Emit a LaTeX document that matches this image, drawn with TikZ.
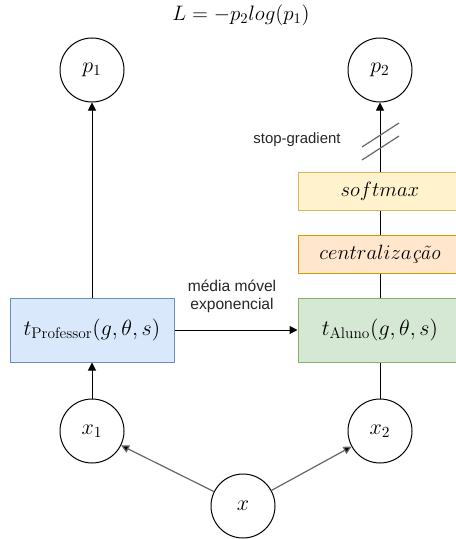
\RequirePackage{fix-cm}
\documentclass[tikz,border=0pt]{standalone}
\usepackage{fontspec}
\newfontfamily\sansf{Liberation Sans}
\usetikzlibrary{arrows.meta}
\definecolor{blueF}{HTML}{DAE8FC}
\definecolor{blueD}{HTML}{6C8EBF}
\definecolor{greenF}{HTML}{D5E8D4}
\definecolor{greenD}{HTML}{82B366}
\definecolor{yelF}{HTML}{FFF2CC}
\definecolor{yelD}{HTML}{D6B656}
\definecolor{orF}{HTML}{FFE6CC}
\definecolor{orD}{HTML}{D79B00}
\tikzset{
  circ/.style={draw, circle, minimum size=48pt, inner sep=0pt, line width=0.75pt, font=\fontsize{16.5}{19}\selectfont},
  bigbox/.style={draw, rectangle, minimum width=123pt, minimum height=48pt, inner sep=0pt, line width=0.75pt, font=\fontsize{16.5}{19}\selectfont},
  smallbox/.style={draw, rectangle, minimum width=123pt, minimum height=28pt, inner sep=0pt, line width=0.75pt, font=\fontsize{15.5}{18}\selectfont},
  conn/.style={line width=0.75pt},
  arr/.style={line width=0.75pt, -{Triangle[length=6pt,width=6pt]}},
  garr/.style={line width=0.9pt, draw=black!60, -{Triangle[length=6pt,width=6pt,fill=black]}},
  lbl/.style={font=\sansf\fontsize{11.2}{13}\selectfont, text=black!85, align=center}
}
\begin{document}
\begin{tikzpicture}[x=0.75pt,y=-0.75pt]
\useasboundingbox (0,0) rectangle (456,539);
\node[font=\fontsize{15.7}{18}\selectfont] (L) at (241,15) {$L = -p_2 log(p_1)$};
\node[circ] (p1) at (92,70) {$p_1$};
\node[circ] (p2) at (380,70) {$p_2$};
\node[bigbox, fill=blueF, draw=blueD] (prof) at (92,330) {$t_{\mathrm{Professor}}(g,\theta,s)$};
\node[bigbox, fill=greenF, draw=greenD] (aluno) at (380,330) {$t_{\mathrm{Aluno}}(g,\theta,s)$};
\node[smallbox, fill=orF, draw=orD] (cent) at (380,254.5) {$centraliza$\mbox{\itshape ção}};
\node[smallbox, fill=yelF, draw=yelD] (soft) at (380,191.5) {$softmax$};
\node[circ] (x1) at (92,431) {$x_1$};
\node[circ] (x2) at (380,431) {$x_2$};
\node[circ] (x) at (243,506) {$x$};
\draw[arr] (prof) -- (p1);
\draw[arr] (x1) -- (prof);
\draw[arr] (prof) -- node[lbl, font=\sansf\fontsize{11.7}{13.6}\selectfont, above=9pt, xshift=-3pt] {média móvel\\exponencial} (aluno);
\draw[conn] (x2) -- (aluno);
\draw[conn] (aluno) -- (cent);
\draw[conn] (cent) -- (soft);
\draw[arr] (soft) -- (p2);
\draw[garr] (x) -- (x1);
\draw[garr] (x) -- (x2);
\coordinate (s1a) at (362,147); \coordinate (s1b) at (399,123);
\coordinate (s2a) at (362,160); \coordinate (s2b) at (399,136);
\draw[line width=0.9pt, draw=black!60] (s1a) -- (s1b);
\draw[line width=0.9pt, draw=black!60] (s2a) -- (s2b);
\node[lbl] (sg) at (297,140) {stop-gradient};
\end{tikzpicture}
\end{document}
